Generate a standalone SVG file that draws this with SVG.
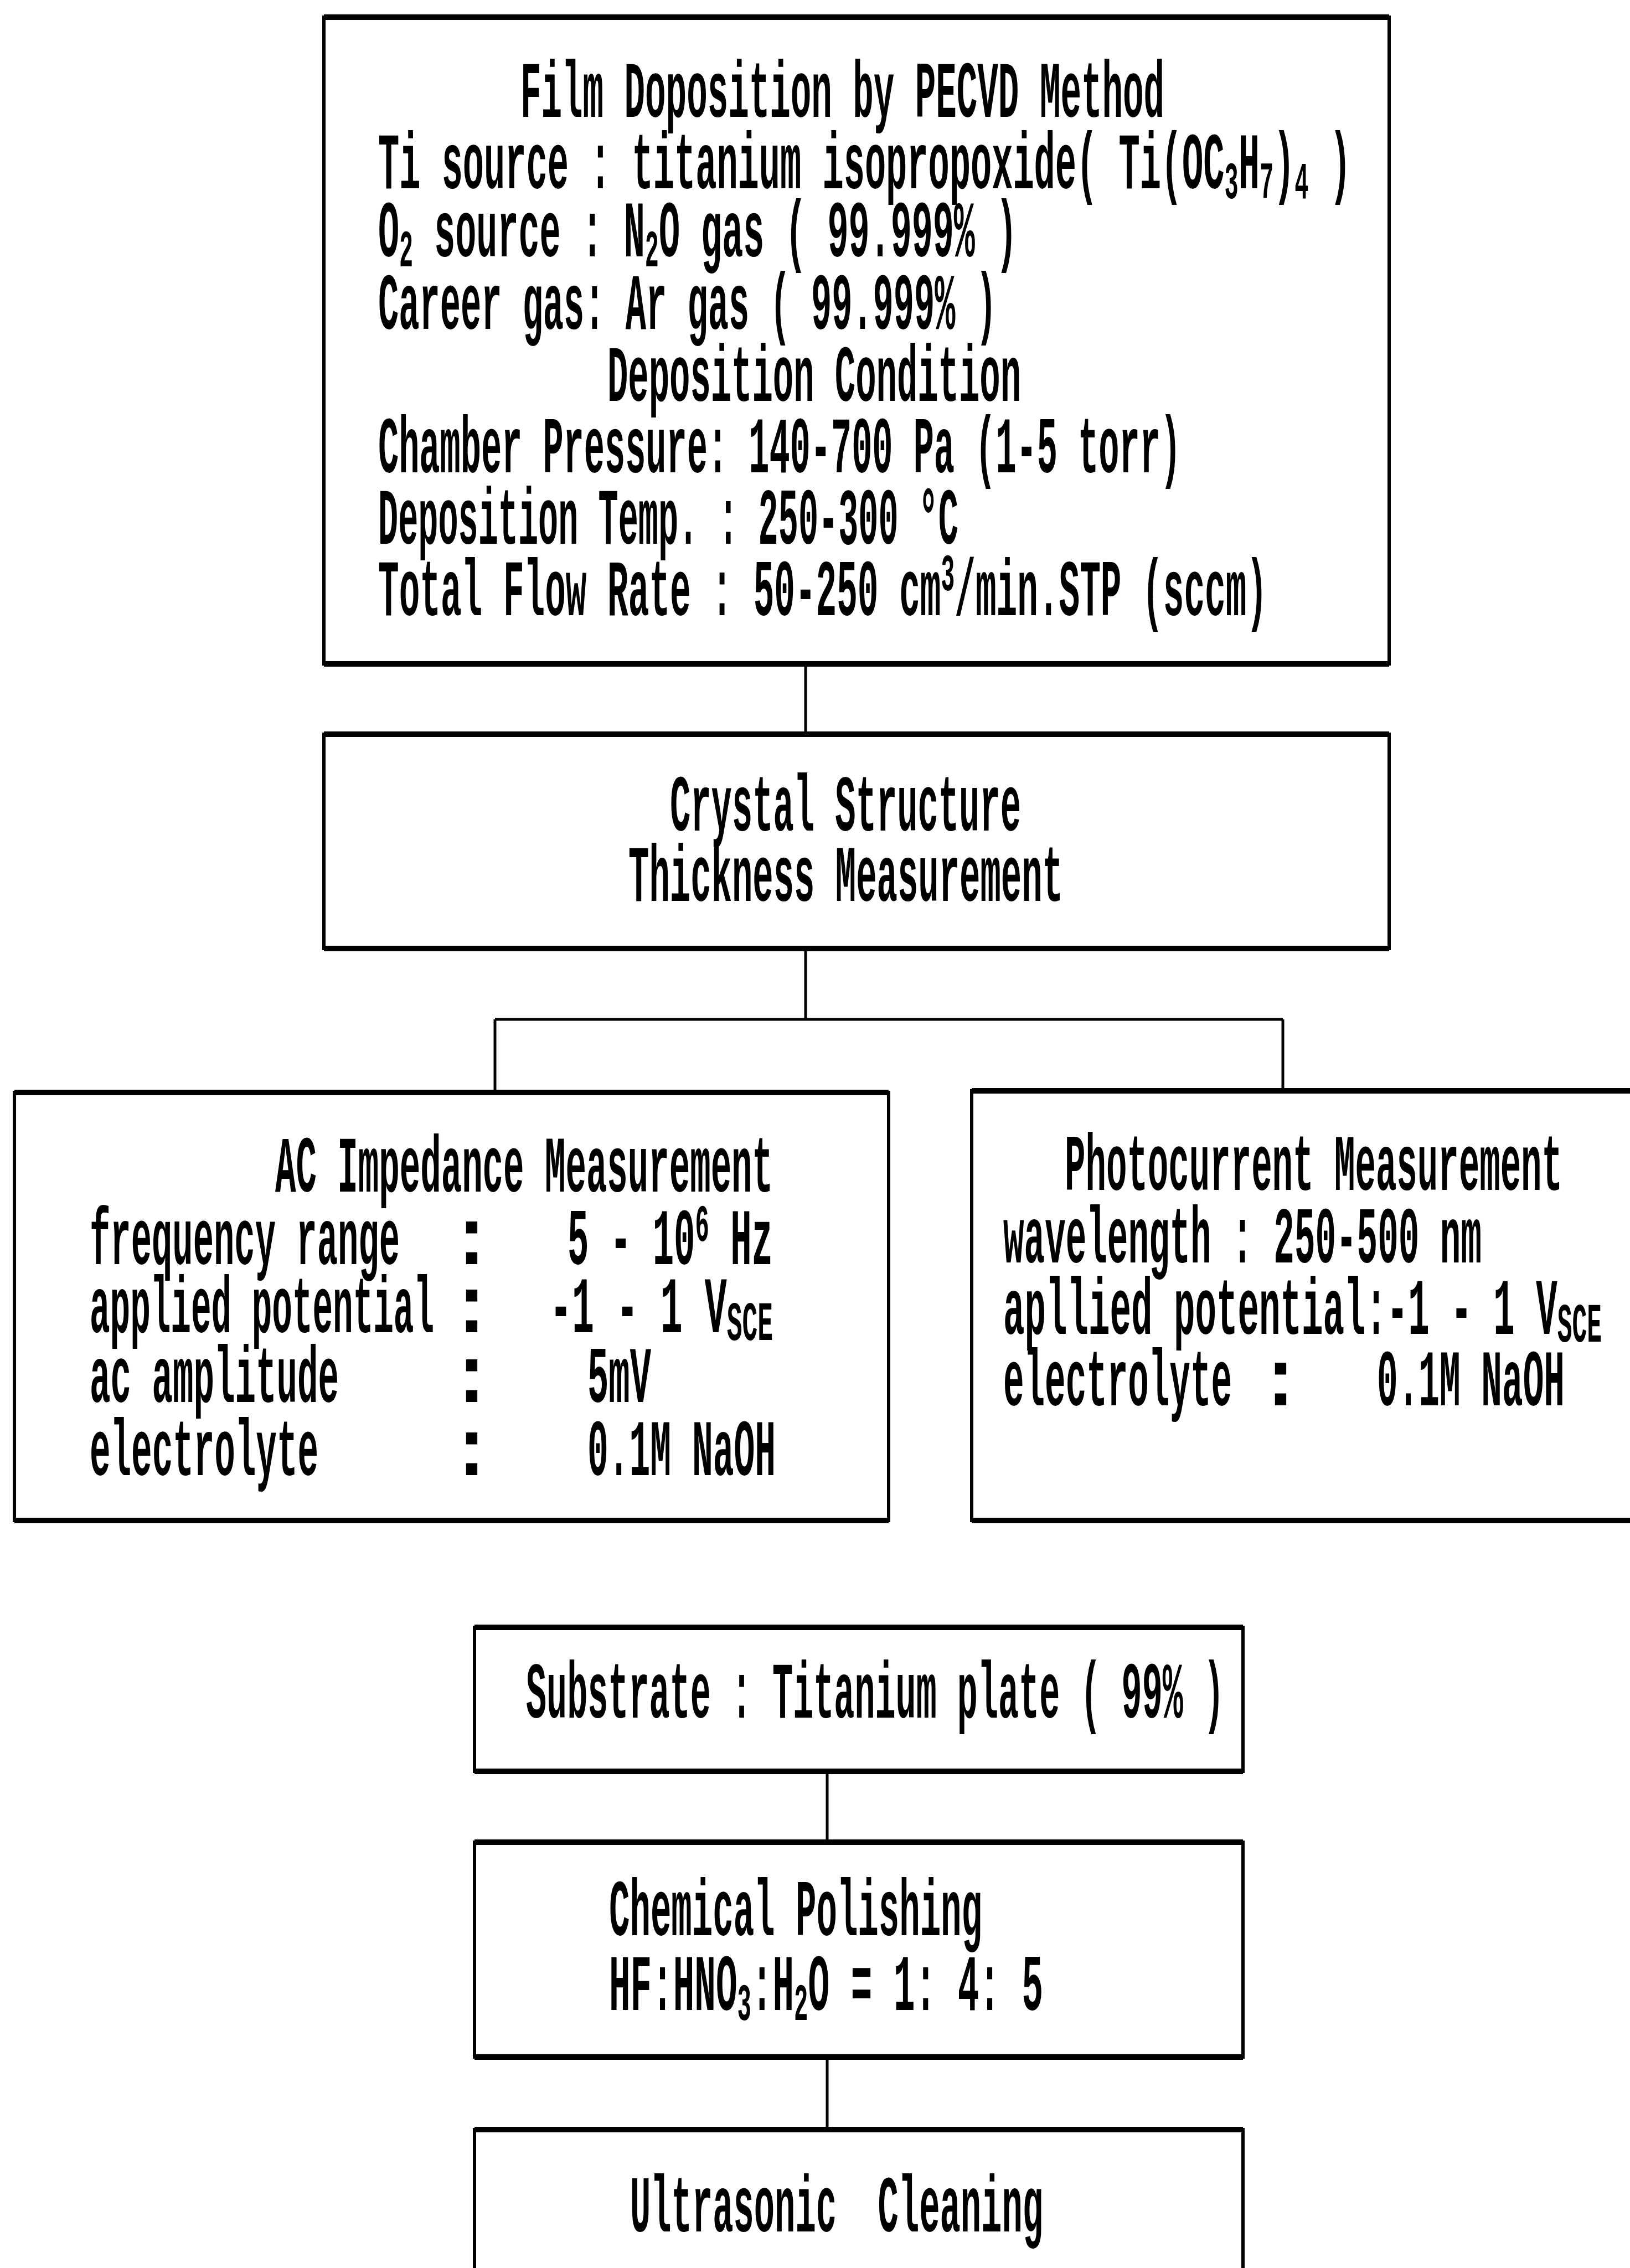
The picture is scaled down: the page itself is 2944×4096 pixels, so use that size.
<svg xmlns="http://www.w3.org/2000/svg" width="2944" height="4096" viewBox="0 0 2944 4096">
<style>
.box{fill:#fff;stroke:#000;stroke-width:6}
.he{fill:none;stroke:#000;stroke-width:10}
.cn{fill:none;stroke:#000;stroke-width:5}
.t{font-family:"Liberation Mono","DejaVu Sans Mono",monospace;font-size:144px;font-weight:bold;fill:#000}
.c{text-anchor:middle}
</style>
<rect width="2944" height="4096" fill="#fff"/>
<g id="connectors">
<path class="cn" d="M1455 1199V1326M1455 1713V1841M894 1841H2317M894 1841V1973M2317 1841V1970M1494 3199V3327M1494 3715V3846"/>
</g>
<g id="node-pecvd">
<rect class="box" x="585" y="31" width="1924" height="1168"/>
<path class="he" d="M585 31H2509M585 1199H2509"/>
<text class="t" x="940" y="211" textLength="1163" lengthAdjust="spacingAndGlyphs">Film Doposition by PECVD Method</text>
<text class="t" x="683" y="340" textLength="1757" lengthAdjust="spacingAndGlyphs">Ti source : titanium isopropoxide( Ti(OC<tspan font-size="95" dy="18">3</tspan><tspan dy="-18">H</tspan><tspan font-size="95" dy="18">7</tspan><tspan dy="-18">)</tspan><tspan font-size="95" dy="18">4</tspan><tspan dy="-18"> )</tspan></text>
<text class="t" x="683" y="463" textLength="1154" lengthAdjust="spacingAndGlyphs">O<tspan font-size="95" dy="18">2</tspan><tspan dy="-18"> source : N</tspan><tspan font-size="95" dy="18">2</tspan><tspan dy="-18">O gas ( 99.999% )</tspan></text>
<text class="t" x="683" y="594" textLength="1117" lengthAdjust="spacingAndGlyphs">Career gas: Ar gas ( 99.999% )</text>
<text class="t" x="1097" y="724" textLength="747" lengthAdjust="spacingAndGlyphs">Deposition Condition</text>
<text class="t" x="683" y="853" textLength="1450" lengthAdjust="spacingAndGlyphs">Chamber Pressure: 140-700 Pa (1-5 torr)</text>
<text class="t" x="683" y="982" textLength="1048" lengthAdjust="spacingAndGlyphs">Deposition Temp. : 250-300 °C</text>
<text class="t" x="683" y="1111" textLength="1606" lengthAdjust="spacingAndGlyphs">Total Flow Rate : 50-250 cm<tspan font-size="95" dy="-45">3</tspan><tspan dy="45">/min.STP (sccm)</tspan></text>
</g>
<g id="node-crystal">
<rect class="box" x="585" y="1326" width="1924" height="387"/>
<path class="he" d="M585 1326H2509M585 1713H2509"/>
<text class="t" x="1210" y="1500" textLength="634" lengthAdjust="spacingAndGlyphs">Crystal Structure</text>
<text class="t" x="1135" y="1627" textLength="785" lengthAdjust="spacingAndGlyphs">Thickness Measurement</text>
</g>
<g id="node-ac">
<rect class="box" x="26" y="1973" width="1579" height="773"/>
<path class="he" d="M26 1973H1605M26 2746H1605"/>
<text class="t" x="497" y="2152" textLength="899" lengthAdjust="spacingAndGlyphs">AC Impedance Measurement</text>
<text class="t" x="162" y="2283" textLength="560" lengthAdjust="spacingAndGlyphs">frequency range</text>
<text class="t c" x="852" y="2283">:</text>
<text class="t" x="1025" y="2283" textLength="371" lengthAdjust="spacingAndGlyphs">5 - 10<tspan font-size="95" dy="-42">6</tspan><tspan dy="42"> Hz</tspan></text>
<text class="t" x="162" y="2406" textLength="622" lengthAdjust="spacingAndGlyphs">applied potential</text>
<text class="t c" x="852" y="2406">:</text>
<text class="t" x="993" y="2406" textLength="403" lengthAdjust="spacingAndGlyphs">-1 - 1 V<tspan font-size="100" dy="14">SCE</tspan></text>
<text class="t" x="162" y="2532" textLength="450" lengthAdjust="spacingAndGlyphs">ac amplitude</text>
<text class="t c" x="852" y="2532">:</text>
<text class="t" x="1061" y="2532" textLength="115" lengthAdjust="spacingAndGlyphs">5mV</text>
<text class="t" x="162" y="2664" textLength="413" lengthAdjust="spacingAndGlyphs">electrolyte</text>
<text class="t c" x="852" y="2664">:</text>
<text class="t" x="1061" y="2664" textLength="340" lengthAdjust="spacingAndGlyphs">0.1M NaOH</text>
</g>
<g id="node-photo">
<rect class="box" x="1755" y="1970" width="1220" height="776"/>
<path class="he" d="M1755 1970H2975M1755 2746H2975"/>
<text class="t" x="1923" y="2149" textLength="899" lengthAdjust="spacingAndGlyphs">Photocurrent Measurement</text>
<text class="t" x="1812" y="2280" textLength="864" lengthAdjust="spacingAndGlyphs">wavelength : 250-500 nm</text>
<text class="t" x="1812" y="2409" textLength="1081" lengthAdjust="spacingAndGlyphs">apllied potential:-1 - 1 V<tspan font-size="100" dy="14">SCE</tspan></text>
<text class="t" x="1812" y="2538" textLength="413" lengthAdjust="spacingAndGlyphs">electrolyte</text>
<text class="t c" x="2313" y="2538">:</text>
<text class="t" x="2487" y="2538" textLength="339" lengthAdjust="spacingAndGlyphs">0.1M NaOH</text>
</g>
<g id="node-substrate">
<rect class="box" x="857" y="2939" width="1388" height="260"/>
<path class="he" d="M857 2939H2245M857 3199H2245"/>
<text class="t" x="950" y="3102" textLength="1261" lengthAdjust="spacingAndGlyphs">Substrate : Titanium plate ( 99% )</text>
</g>
<g id="node-polishing">
<rect class="box" x="857" y="3327" width="1388" height="388"/>
<path class="he" d="M857 3327H2245M857 3715H2245"/>
<text class="t" x="1100" y="3495" textLength="674" lengthAdjust="spacingAndGlyphs">Chemical Polishing</text>
<text class="t" x="1100" y="3630" textLength="784" lengthAdjust="spacingAndGlyphs">HF:HNO<tspan font-size="95" dy="18">3</tspan><tspan dy="-18">:H</tspan><tspan font-size="95" dy="18">2</tspan><tspan dy="-18">O = 1: 4: 5</tspan></text>
</g>
<g id="node-ultrasonic">
<rect class="box" x="857" y="3846" width="1388" height="280"/>
<path class="he" d="M857 3846H2245"/>
<text class="t" x="1138" y="4030" textLength="746" lengthAdjust="spacingAndGlyphs" xml:space="preserve">Ultrasonic  Cleaning</text>
</g>
</svg>
